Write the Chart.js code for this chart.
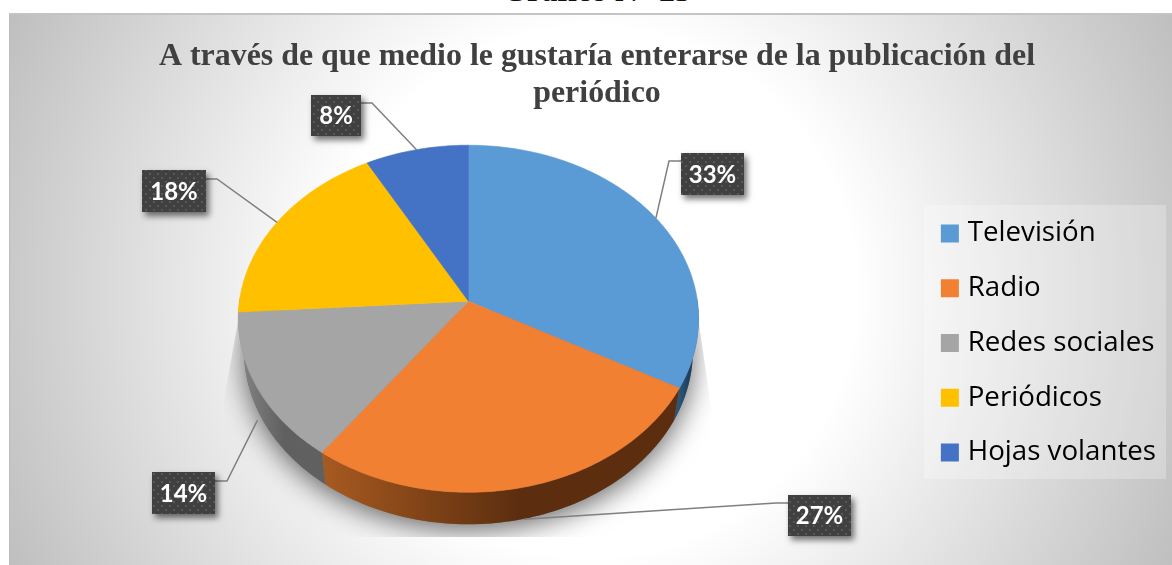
<!doctype html>
<html>
<head>
<meta charset="utf-8">
<style>
  html, body { margin: 0; padding: 0; background: #fff; overflow: hidden; }
  #page { position: relative; width: 1172px; height: 565px; overflow: hidden; }
  #panel {
    position: absolute; left: 9px; top: 13px; right: 0; bottom: 0;
    box-sizing: border-box; border-top: 2px solid #c4c4c4; border-left: 1px solid #bdbdbd;
    background: radial-gradient(circle 660px at 581px 277px, #fff 40%, #bcbcbc 100%);
  }
  #heading {
    position: absolute; left: 0; width: 1193px; top: -28px; text-align: center;
    font: bold 32px "Liberation Serif", serif; color: #111;
  }
  canvas { position: absolute; left: 0; top: 0; }
</style>
</head>
<body>
<div id="page">
  <div id="heading">Gráfico N° 23</div>
  <div id="panel"></div>
  <canvas id="pie" width="1172" height="565"></canvas>
</div>
<script src="https://cdn.jsdelivr.net/npm/chart.js"></script>
<script>
  // data
  var categories = ['Televisión', 'Radio', 'Redes sociales', 'Periódicos', 'Hojas volantes'];
  var percents = [33, 27, 14, 18, 8];
  var titleLines = ['A través de que medio le gustaría enterarse de la publicación del', 'periódico'];

  // colours
  var faceColors = ['#5b9bd5', '#f28033', '#a5a5a5', '#ffc000', '#4472c4'];
  var wallLeft = ['#2b5578', '#a85a20', '#858585', '#a67c00', '#2c4a80'];
  var wallRight = ['#1f3f5c', '#5c2e0f', '#606060', '#7f6000', '#264478'];

  // label boxes, in page pixels, with the elbow of each leader line
  var boxes = [
    { x: 681, y: 153, w: 63, h: 42, ex: 669, ey: 161, wall: false },
    { x: 788, y: 495, w: 63, h: 41, ex: 776, ey: 503, wall: true },
    { x: 152, y: 472, w: 63, h: 42, ex: 227, ey: 481, wall: true },
    { x: 142, y: 170, w: 64, h: 42, ex: 217, ey: 179, wall: false },
    { x: 311, y: 95, w: 50, h: 41, ex: 372, ey: 103, wall: false }
  ];

  // tilted pie: the far side looks smaller than the near side
  var tilt = { dx: -5, dy: -40, squash: 0.75, persp: -0.101, depth: 32, shrink: 0.975 };

  function project(arc, angle, lower) {
    var u = Math.cos(angle), v = Math.sin(angle);
    var d = 1 + tilt.persp * v;
    var r = arc.outerRadius * (lower ? tilt.shrink : 1);
    return {
      x: arc.x + tilt.dx + r * u / d,
      y: arc.y + tilt.dy + arc.outerRadius * tilt.squash * v / d + (lower ? tilt.depth : 0)
    };
  }

  function arcPoints(ctx, arc, from, to, lower, move) {
    var steps = Math.max(2, Math.ceil(Math.abs(to - from) / 0.02));
    for (var i = 0; i <= steps; i++) {
      var p = project(arc, from + (to - from) * i / steps, lower);
      if (i === 0 && move) ctx.moveTo(p.x, p.y); else ctx.lineTo(p.x, p.y);
    }
  }

  // slices are drawn by the library's arc element, only bent to the tilted shape
  Chart.ArcElement.prototype.draw = function (ctx) {
    ctx.save();
    ctx.fillStyle = this.options.backgroundColor;
    ctx.strokeStyle = this.options.backgroundColor;
    ctx.lineWidth = 0.6;
    ctx.beginPath();
    ctx.moveTo(this.x + tilt.dx, this.y + tilt.dy);
    arcPoints(ctx, this, this.startAngle, this.endAngle, false, false);
    ctx.closePath();
    ctx.fill();
    ctx.stroke();
    ctx.restore();
  };

  var pieBody = {
    id: 'pieBody',
    beforeDatasetsDraw: function (chart) {
      var ctx = chart.ctx;
      var arcs = chart.getDatasetMeta(0).data;
      var first = arcs[0];

      // soft shadow, cut off by a tapered shape like the original
      ctx.save();
      ctx.beginPath();
      ctx.moveTo(240, 310);
      ctx.lineTo(224, 400);
      ctx.lineTo(224, 537);
      ctx.lineTo(713, 537);
      ctx.lineTo(713, 420);
      ctx.lineTo(697, 310);
      ctx.closePath();
      ctx.clip();
      ctx.shadowColor = 'rgba(0,0,0,0.6)';
      ctx.shadowBlur = 28;
      ctx.shadowOffsetY = 6;
      ctx.fillStyle = '#777';
      ctx.beginPath();
      arcPoints(ctx, first, 0, Math.PI * 2, true, true);
      ctx.closePath();
      ctx.fill();
      ctx.restore();

      // side wall of the slices on the near side
      arcs.forEach(function (arc, i) {
        var from = Math.max(arc.startAngle, -0.02);
        var to = Math.min(arc.endAngle, Math.PI + 0.02);
        if (to <= from) return;
        var a = project(arc, from), b = project(arc, to);
        var grad = ctx.createLinearGradient(Math.min(a.x, b.x), 0, Math.max(a.x, b.x), 0);
        grad.addColorStop(0, wallLeft[i]);
        grad.addColorStop(0.55, wallRight[i]);
        grad.addColorStop(1, wallRight[i]);
        ctx.fillStyle = grad;
        ctx.beginPath();
        arcPoints(ctx, arc, from, to, false, true);
        arcPoints(ctx, arc, to, from, true, false);
        ctx.closePath();
        ctx.fill();
      });
    }
  };

  function dotPattern(ctx) {
    var c = document.createElement('canvas');
    c.width = 8; c.height = 8;
    var g = c.getContext('2d');
    g.fillStyle = '#404040';
    g.fillRect(0, 0, 8, 8);
    g.fillStyle = '#585858';
    g.fillRect(1, 1, 2, 2);
    g.fillRect(5, 5, 2, 2);
    return ctx.createPattern(c, 'repeat');
  }

  var pieLabels = {
    id: 'pieLabels',
    afterDatasetsDraw: function (chart) {
      var ctx = chart.ctx;
      var arcs = chart.getDatasetMeta(0).data;
      var fill = dotPattern(ctx);
      arcs.forEach(function (arc, i) {
        var b = boxes[i];
        var mid = project(arc, (arc.startAngle + arc.endAngle) / 2);
        var side = b.ex > b.x ? b.x + b.w : b.x;

        ctx.save();
        ctx.strokeStyle = '#7f7f7f';
        ctx.lineWidth = 1.5;
        ctx.beginPath();
        ctx.moveTo(side, b.ey);
        ctx.lineTo(b.ex, b.ey);
        ctx.lineTo(mid.x, mid.y + (b.wall ? tilt.depth : 0));
        ctx.stroke();
        ctx.restore();

        ctx.save();
        ctx.shadowColor = 'rgba(0,0,0,0.55)';
        ctx.shadowBlur = 6;
        ctx.shadowOffsetX = 3;
        ctx.shadowOffsetY = 4;
        ctx.fillStyle = fill;
        ctx.fillRect(b.x, b.y, b.w, b.h);
        ctx.restore();

        ctx.save();
        ctx.fillStyle = '#fff';
        ctx.font = 'bold 24px Lato, sans-serif';
        ctx.textAlign = 'center';
        ctx.textBaseline = 'middle';
        ctx.fillText(percents[i] + '%', b.x + b.w / 2, b.y + b.h / 2 + 1);
        ctx.restore();
      });
    }
  };

  // legend backing and its place under the title
  var legendBack = {
    id: 'legendBack',
    afterLayout: function (chart) {
      chart.legend.top += 60.5;
      chart.legend.bottom += 60.5;
    },
    beforeDraw: function (chart) {
      chart.ctx.save();
      chart.ctx.fillStyle = 'rgba(255,255,255,0.25)';
      chart.ctx.fillRect(924, 205, 242, 274);
      chart.ctx.restore();
    }
  };

  new Chart(document.getElementById('pie').getContext('2d'), {
    type: 'pie',
    data: {
      labels: categories,
      datasets: [{
        data: percents,
        backgroundColor: faceColors,
        borderWidth: 0,
        radius: 229
      }]
    },
    options: {
      responsive: false,
      animation: false,
      events: [],
      layout: { padding: { left: 28, right: 6, top: 0, bottom: 0 } },
      plugins: {
        tooltip: { enabled: false },
        title: {
          display: true,
          text: titleLines,
          color: '#404040',
          font: { family: '"Liberation Serif", serif', size: 31.9, weight: 'bold', lineHeight: 1.16 },
          padding: { top: 38, bottom: 5.4 }
        },
        legend: {
          position: 'right',
          labels: {
            color: '#404040',
            font: { family: '"Open Sans", sans-serif', size: 27.7 },
            boxWidth: 8,
            boxHeight: 8,
            padding: 27,
            generateLabels: function () {
              return categories.map(function (name, i) {
                return { text: name, fillStyle: faceColors[i], strokeStyle: faceColors[i], lineWidth: 10, index: i };
              });
            }
          }
        }
      }
    },
    plugins: [legendBack, pieBody, pieLabels]
  });
</script>
</body>
</html>
